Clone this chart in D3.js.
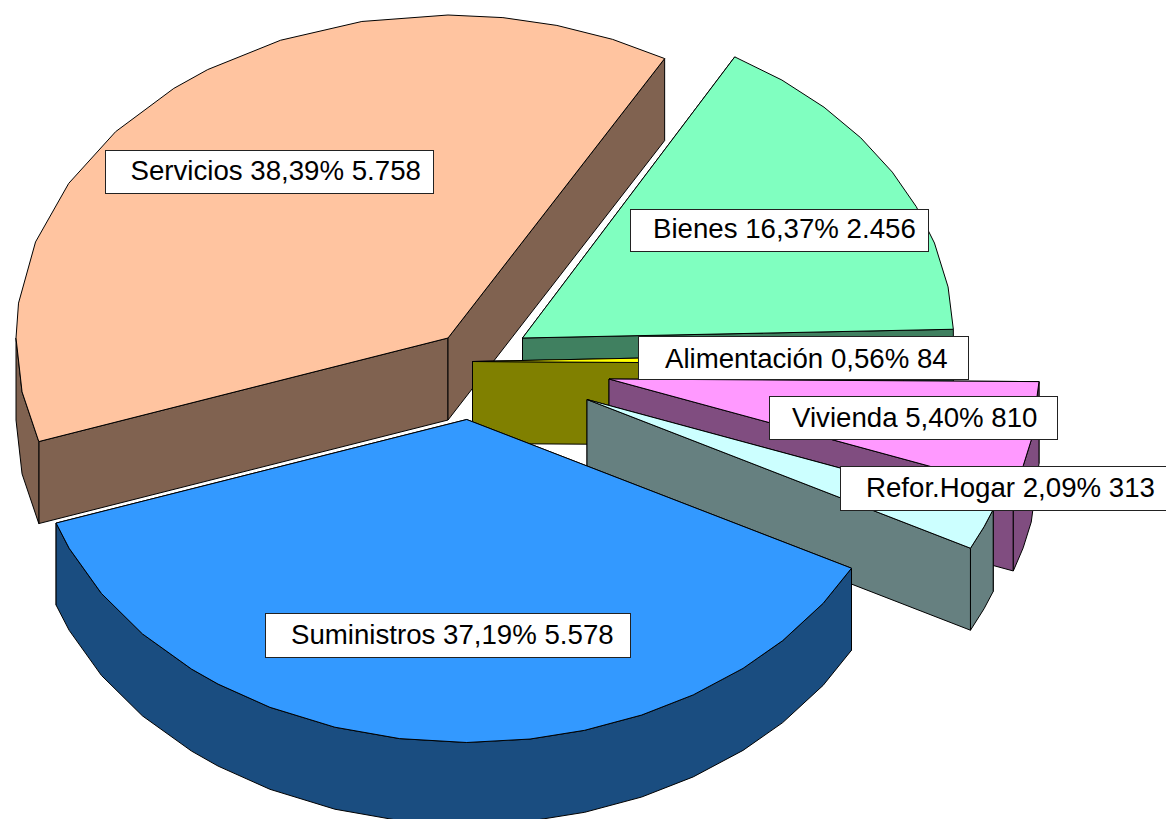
<!DOCTYPE html>
<html>
<head>
<meta charset="utf-8">
<script src="https://cdn.jsdelivr.net/npm/d3@7"></script>
<style>
    html, body { margin: 0; background: #fff; overflow: hidden; }
    svg { display: block; }
    text { font-family: "Liberation Sans", Arial, sans-serif; }
</style>
</head>
<body>
<svg id="chart" width="1166" height="819"></svg>
<script>
// Values, clockwise from the Bienes slice
const categories = ["Bienes", "Alimentación", "Vivienda", "Refor.Hogar", "Suministros", "Servicios"];
const amounts = [2456, 84, 810, 313, 5578, 5758];

// Drawing styles and layout, same order as categories
const topColors = ["#80FFC0", "#FFFF00", "#FF99FF", "#CCFFFF", "#3399FF", "#FFC4A0"];
const sideColors = ["#408060", "#808000", "#804D80", "#668080", "#1A4D80", "#806250"];
const apexes = [[522.5, 338], [472.5, 361.5], [609, 379], [587, 399.5], [466.7, 419.5], [448, 338]];
const radiiX = [431, 431, 430, 432, 433.5, 432];
const endNudge = [0, 0, 0, 0, 0, 0.6];
// Corners of the faceted rim, degrees clockwise from the top
const rimBreaks = [
    [37, 44.4, 51.7, 59.1, 66, 72.9, 80.9],
    [],
    [100.9, 105.6],
    [113.2],
    [124.7, 133.2, 140.4, 148.5, 156.2, 164.2, 171.6, 180, 188.9, 197.7, 207, 215, 219.4, 228.4, 237.4, 246.5],
    [260.4, 270, 276.2, 287.3, 298.6, 309.7, 320.6, 326.2, 337.2, 348.5, 360, 367.3, 374.6, 382.4]
];
// box x, y, width, height, text x, text baseline
const labelBoxes = [
    [630, 209, 298, 42, 653, 238],
    [638, 336, 330, 43, 665, 368],
    [769, 396, 288, 43, 792, 426.5],
    [840, 466, 327, 44, 866, 497],
    [265, 613, 365, 44, 291, 644],
    [105, 150, 328, 43, 130.5, 180]
];
// Back to front
const drawOrder = [0, 5, 1, 2, 3, 4];

const radiusY = 323;
const depth = 82;
const startDeg = 29.5;

const svg = d3.select("#chart");
const rad = d3.scaleLinear().domain([0, 180]).range([0, Math.PI]);
const yScale = d3.scaleLinear().domain([-1, 1]).range([-radiusY, radiusY]);

const pie = d3.pie().sort(null)
    .startAngle(rad(startDeg))
    .endAngle(rad(startDeg + 360));
const slices = pie(amounts);

const total = d3.sum(amounts);
const es = d3.formatLocale({ decimal: ",", thousands: ".", grouping: [3], currency: ["", "€"] });
const fmtPct = es.format(".2%");
const fmtVal = es.format(",d");

const line = d3.line().x(d => d[0]).y(d => d[1]);
const closed = pts => line(pts) + "Z";

drawOrder.forEach(i => {
    const s = slices[i];
    const apex = apexes[i];
    const g = svg.append("g").attr("class", "slice");
    const xScale = d3.scaleLinear().domain([-1, 1]).range([-radiiX[i], radiiX[i]]);
    const startA = s.startAngle;
    const endA = s.endAngle + rad(endNudge[i]);

    const rimPoint = (a, drop) => [apex[0] + xScale(Math.sin(a)), apex[1] + yScale(-Math.cos(a)) + drop];
    const anglesBetween = (a0, a1) => [a0].concat(rimBreaks[i].map(rad).filter(a => a > a0 && a < a1), [a1]);
    const addPath = (pts, fill) => g.append("path")
        .attr("d", closed(pts))
        .attr("fill", fill)
        .attr("stroke", "#000")
        .attr("stroke-width", 1)
        .attr("stroke-linejoin", "round");

    // radial walls
    [startA, endA].forEach(a => {
        addPath([apex, rimPoint(a, 0), rimPoint(a, depth), [apex[0], apex[1] + depth]], sideColors[i]);
    });

    // outer wall, only the part that faces the viewer
    const from = Math.max(startA, rad(90));
    const to = Math.min(endA, rad(270));
    if (to > from) {
        const angles = anglesBetween(from, to);
        addPath(
            angles.map(a => rimPoint(a, 0))
                .concat(angles.slice().reverse().map(a => rimPoint(a, depth))),
            sideColors[i]
        );
    }

    // top face
    addPath([apex].concat(anglesBetween(startA, endA).map(a => rimPoint(a, 0))), topColors[i]);
});

// Labels go on top of every slice
const labels = svg.selectAll(".label")
    .data(categories)
    .enter()
    .append("g")
    .attr("class", "label");

labels.append("rect")
    .attr("x", (d, i) => labelBoxes[i][0] + 0.5)
    .attr("y", (d, i) => labelBoxes[i][1] + 0.5)
    .attr("width", (d, i) => labelBoxes[i][2])
    .attr("height", (d, i) => labelBoxes[i][3])
    .attr("fill", "#fff")
    .attr("stroke", "#222")
    .attr("stroke-width", 1);

labels.append("text")
    .attr("x", (d, i) => labelBoxes[i][4])
    .attr("y", (d, i) => labelBoxes[i][5])
    .attr("font-size", 27.65)
    .attr("fill", "#000")
    .text((d, i) => `${d} ${fmtPct(amounts[i] / total)} ${fmtVal(amounts[i])}`);
</script>
</body>
</html>
